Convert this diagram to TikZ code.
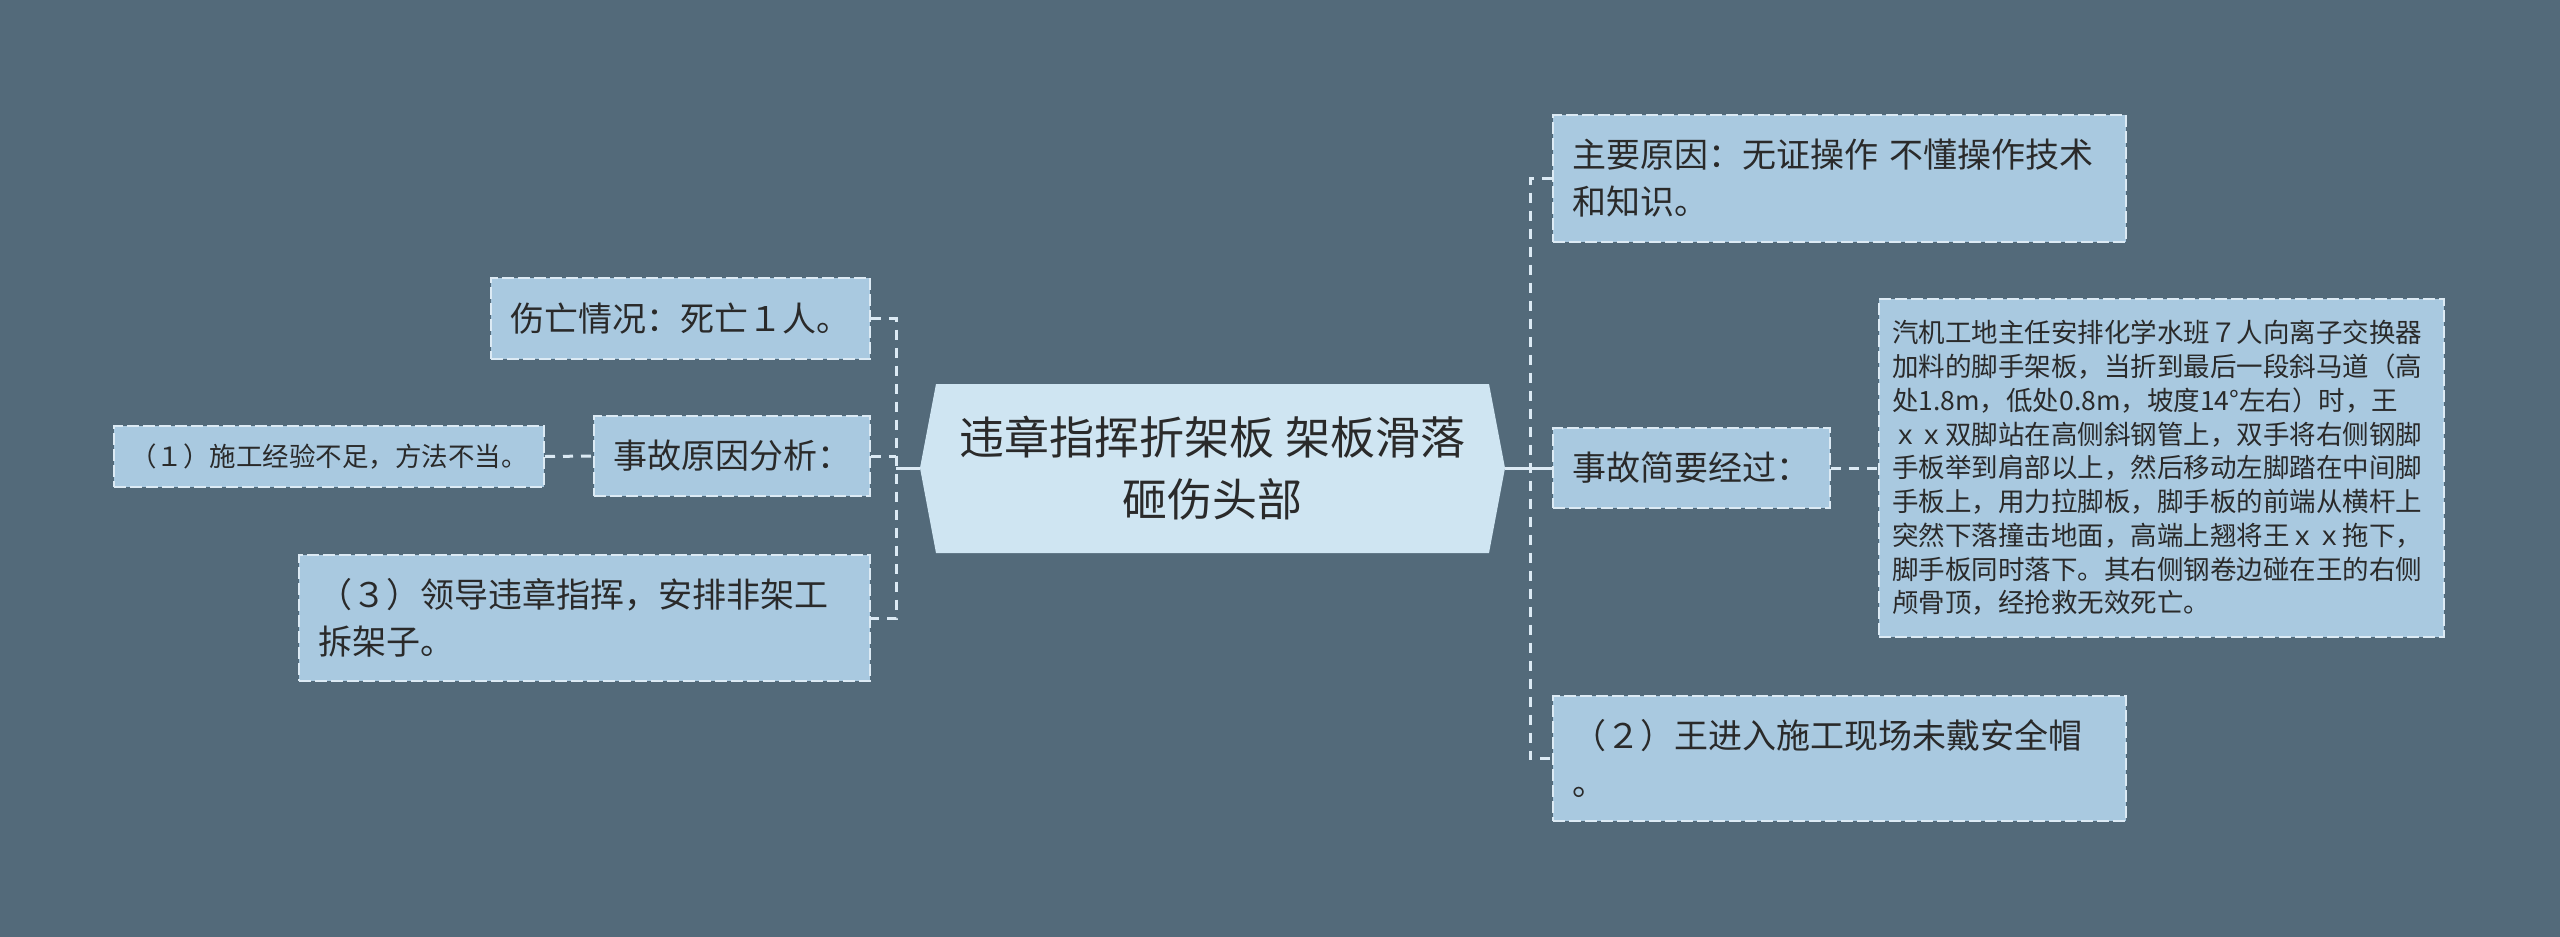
\documentclass[tikz,border=0pt]{standalone}
\usepackage{fontspec}
\setmainfont{Noto Sans CJK SC}
\definecolor{bgc}{HTML}{536A7A}
\definecolor{boxc}{HTML}{A9C9E0}
\definecolor{centc}{HTML}{CFE5F2}
\definecolor{linec}{HTML}{DCEAF4}
\definecolor{txtc}{HTML}{2A2A2A}
\begin{document}
\begin{tikzpicture}[x=1pt,y=-1pt,
  box/.style={fill=boxc, draw=linec, line width=2pt, dash pattern=on 12pt off 4pt,
    text=txtc, inner ysep=0pt, anchor=center},
  conn/.style={draw=linec, line width=3pt, dash pattern=on 10pt off 8pt},
  solidconn/.style={draw=linec, line width=3pt},
  big/.style={font=\fontsize{34pt}{47pt}\selectfont},
  small/.style={font=\fontsize{26.5pt}{33.75pt}\selectfont},
  huge/.style={font=\fontsize{45pt}{62pt}\selectfont}]
\fill[bgc] (0,0) rectangle (2560,937);
\useasboundingbox (0,0) rectangle (2560,937);

% centre
\fill[centc] (920,468) -- (936,384) -- (1489,384) -- (1505,468) -- (1489,553) -- (936,553) -- cycle;
\coordinate (cL) at (920,468);
\coordinate (cR) at (1505,468);
\node[huge, text=txtc, align=center, inner sep=0pt] (c) at (1212.5,468.5)
  {违章指挥折架板 架板滑落\\砸伤头部};

% left boxes
\node[box, big, inner xsep=19pt, minimum width=379pt, minimum height=81pt] (b2) at (680.5,318.5)
  {伤亡情况：死亡１人。};
\node[box, big, inner xsep=19pt, minimum width=276pt, minimum height=80pt] (b3) at (732,456)
  {事故原因分析：};
\node[box, small, inner xsep=13pt, minimum width=430pt, minimum height=61pt] (b4) at (329,456.5)
  {（１）施工经验不足，方法不当。};
\node[box, big, inner xsep=19pt, text width=533pt, align=left, minimum height=126pt] (b5) at (584.5,618)
  {（３）领导违章指挥，安排非架工\\拆架子。};

% right boxes
\node[box, big, inner xsep=19pt, text width=535pt, align=left, minimum height=127pt] (b6) at (1839.5,178.5)
  {主要原因：无证操作 不懂操作技术\\和知识。};
\node[box, big, inner xsep=19pt, minimum width=277pt, minimum height=80pt] (b7) at (1691.5,468)
  {事故简要经过：};
\node[box, small, inner xsep=13pt, text width=539pt, align=left, minimum height=338pt] (b8) at (2161.5,468)
  {汽机工地主任安排化学水班７人向离子交换器\\
   加料的脚手架板，当折到最后一段斜马道（高\\
   处1.8m，低处0.8m，坡度14°左右）时，王\\
   ｘｘ双脚站在高侧斜钢管上，双手将右侧钢脚\\
   手板举到肩部以上，然后移动左脚踏在中间脚\\
   手板上，用力拉脚板，脚手板的前端从横杆上\\
   突然下落撞击地面，高端上翘将王ｘｘ拖下，\\
   脚手板同时落下。其右侧钢卷边碰在王的右侧\\
   颅骨顶，经抢救无效死亡。};
\node[box, big, inner xsep=19pt, text width=535pt, align=left, minimum height=125pt] (b9) at (1839.5,758.5)
  {（２）王进入施工现场未戴安全帽\\。};

% connectors left
\coordinate (tL) at (896,468);
\draw[conn] (b2.east) -- (b2.east -| tL) -- (b5.east -| tL) -- (b5.east);
\draw[conn] (b3.east) -- (b3.east -| tL);
\draw[solidconn] (cL) -- (tL);
\draw[conn] (b4.east) -- (b3.west);

% connectors right
\coordinate (tR) at (1530,468);
\coordinate (tR2) at (1545,468);
\draw[conn] (b6.west) -- (b6.west -| tR) -- (b9.west -| tR) -- (b9.west);
\draw[solidconn] (cR) -- (tR2);
\draw[conn] (tR2) -- (b7.west);
\draw[conn] (b7.east) -- (b8.west);
\end{tikzpicture}
\end{document}
